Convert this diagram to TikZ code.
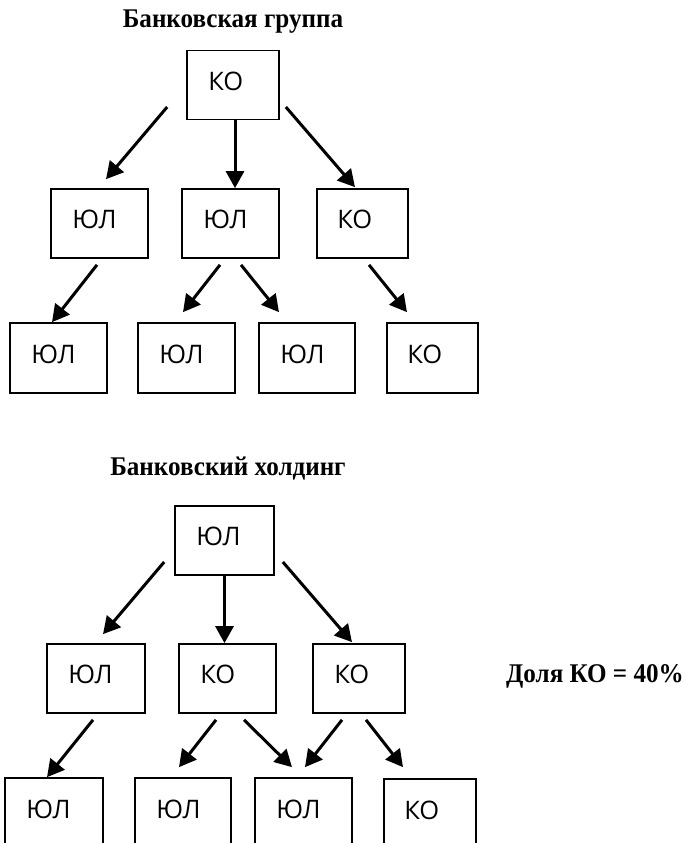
\documentclass[tikz,border=0pt]{standalone}
\usepackage{fontspec}
\setmainfont{Liberation Serif}
\newfontfamily\ttlfont[FakeStretch=0.93]{Liberation Serif}
\newfontfamily\lblfont{Open Sans}
\usetikzlibrary{arrows.meta}
\begin{document}
\begin{tikzpicture}[x=1pt,y=-1pt,
  box/.style={draw, line width=1.7pt, minimum width=#1, minimum height=69pt, inner sep=0pt},
  lbl/.style={font=\lblfont\fontsize{25.5}{25.5}\selectfont, inner sep=0pt, anchor=west},
  arr/.style={line width=3pt, -{Triangle[length=17pt,width=18pt]}},
  ttl/.style={font=\ttlfont\bfseries\fontsize{27}{27}\selectfont, inner sep=0pt}]
\useasboundingbox (0,0) rectangle (684,843);
\fill[white] (0,0) rectangle (684,843);
\clip (0,0) rectangle (684,843);

% ---------- Банковская группа ----------
\node[ttl] (t1) at (233,22) {Банковская группа};

\node[box=92] (A0) at (233,85) {};
\node[box=97] (A1) at (99.5,223.5) {};
\node[box=97] (A2) at (230.5,223.5) {};
\node[box=91] (A3) at (362.5,223.5) {};
\node[box=97, minimum height=70pt] (B1) at (58.5,358) {};
\node[box=97, minimum height=70pt] (B2) at (186.5,358) {};
\node[box=96, minimum height=70pt] (B3) at (307,358) {};
\node[box=91, minimum height=70pt] (B4) at (432.5,358) {};

\node[lbl] (A0t) at ([shift={(22,-4)}]A0.west) {КО};
\node[lbl] (A1t) at ([shift={(22,-4)}]A1.west) {ЮЛ};
\node[lbl] (A2t) at ([shift={(22,-4)}]A2.west) {ЮЛ};
\node[lbl] (A3t) at ([shift={(21,-4)}]A3.west) {КО};
\node[lbl] (B1t) at ([shift={(22,-4)}]B1.west) {ЮЛ};
\node[lbl] (B2t) at ([shift={(22,-4)}]B2.west) {ЮЛ};
\node[lbl] (B3t) at ([shift={(22,-4)}]B3.west) {ЮЛ};
\node[lbl] (B4t) at ([shift={(21,-4)}]B4.west) {КО};

\draw[arr] ([shift={(-19,22)}]A0.west) -- ([shift={(6.5,-9)}]A1.north);
\draw[arr] ([xshift=2pt]A0.south) -- ([xshift=2pt]A0.south |- A2.north);
\draw[arr] ([shift={(6,22)}]A0.east) -- ([shift={(-7.5,-1)}]A3.north);
\draw[arr] ([shift={(-2.5,6)}]A1.south) -- ([shift={(-6.5,0)}]B1.north);
\draw[arr] ([shift={(-10.5,6)}]A2.south) -- ([shift={(-3.5,-10)}]B2.north);
\draw[arr] ([shift={(10.5,6)}]A2.south) -- ([shift={(-28,-10)}]B3.north);
\draw[arr] ([shift={(6.5,6)}]A3.south) -- ([shift={(-25.5,-10)}]B4.north);

% ---------- Банковский холдинг ----------
\node[ttl] (t2) at (228,469) {Банковский холдинг};

\node[box=99] (C0) at (224.5,540.5) {};
\node[box=98] (C1) at (96,678.5) {};
\node[box=97] (C2) at (227.5,678.5) {};
\node[box=92] (C3) at (359,678.5) {};
\node[box=98, minimum height=70pt] (D1) at (54,813) {};
\node[box=96, minimum height=70pt] (D2) at (183,813) {};
\node[box=97, minimum height=70pt] (D3) at (303.5,813) {};
\node[box=92, minimum height=70pt] (D4) at (430,814) {};

\node[lbl] (C0t) at ([shift={(22,-4)}]C0.west) {ЮЛ};
\node[lbl] (C1t) at ([shift={(22,-4)}]C1.west) {ЮЛ};
\node[lbl] (C2t) at ([shift={(22,-4)}]C2.west) {КО};
\node[lbl] (C3t) at ([shift={(22,-4)}]C3.west) {КО};
\node[lbl] (D1t) at ([shift={(22,-4)}]D1.west) {ЮЛ};
\node[lbl] (D2t) at ([shift={(22,-4)}]D2.west) {ЮЛ};
\node[lbl] (D3t) at ([shift={(22,-4)}]D3.west) {ЮЛ};
\node[lbl] (D4t) at ([shift={(21,-4)}]D4.west) {КО};

\draw[arr] ([shift={(-10,21.5)}]C0.west) -- ([shift={(7,-9)}]C1.north);
\draw[arr] (C0.south) -- (C0.south |- C2.north);
\draw[arr] ([shift={(8,21.5)}]C0.east) -- ([shift={(-7,-1)}]C3.north);
\draw[arr] ([shift={(-3,6)}]C1.south) -- ([shift={(-7,0)}]D1.north);
\draw[arr] ([shift={(-11.5,6)}]C2.south) -- ([shift={(-4,-10)}]D2.north);
\draw[arr] ([shift={(16.5,6)}]C2.south) -- ([shift={(-11.5,-10)}]D3.north);
\draw[arr] ([shift={(-17,6)}]C3.south) -- ([shift={(1.5,-10)}]D3.north);
\draw[arr] ([shift={(7,6)}]C3.south) -- ([shift={(-27,-11)}]D4.north);

\node[ttl, anchor=east] (share) at (684,676) {Доля КО = 40\%};
\end{tikzpicture}
\end{document}
